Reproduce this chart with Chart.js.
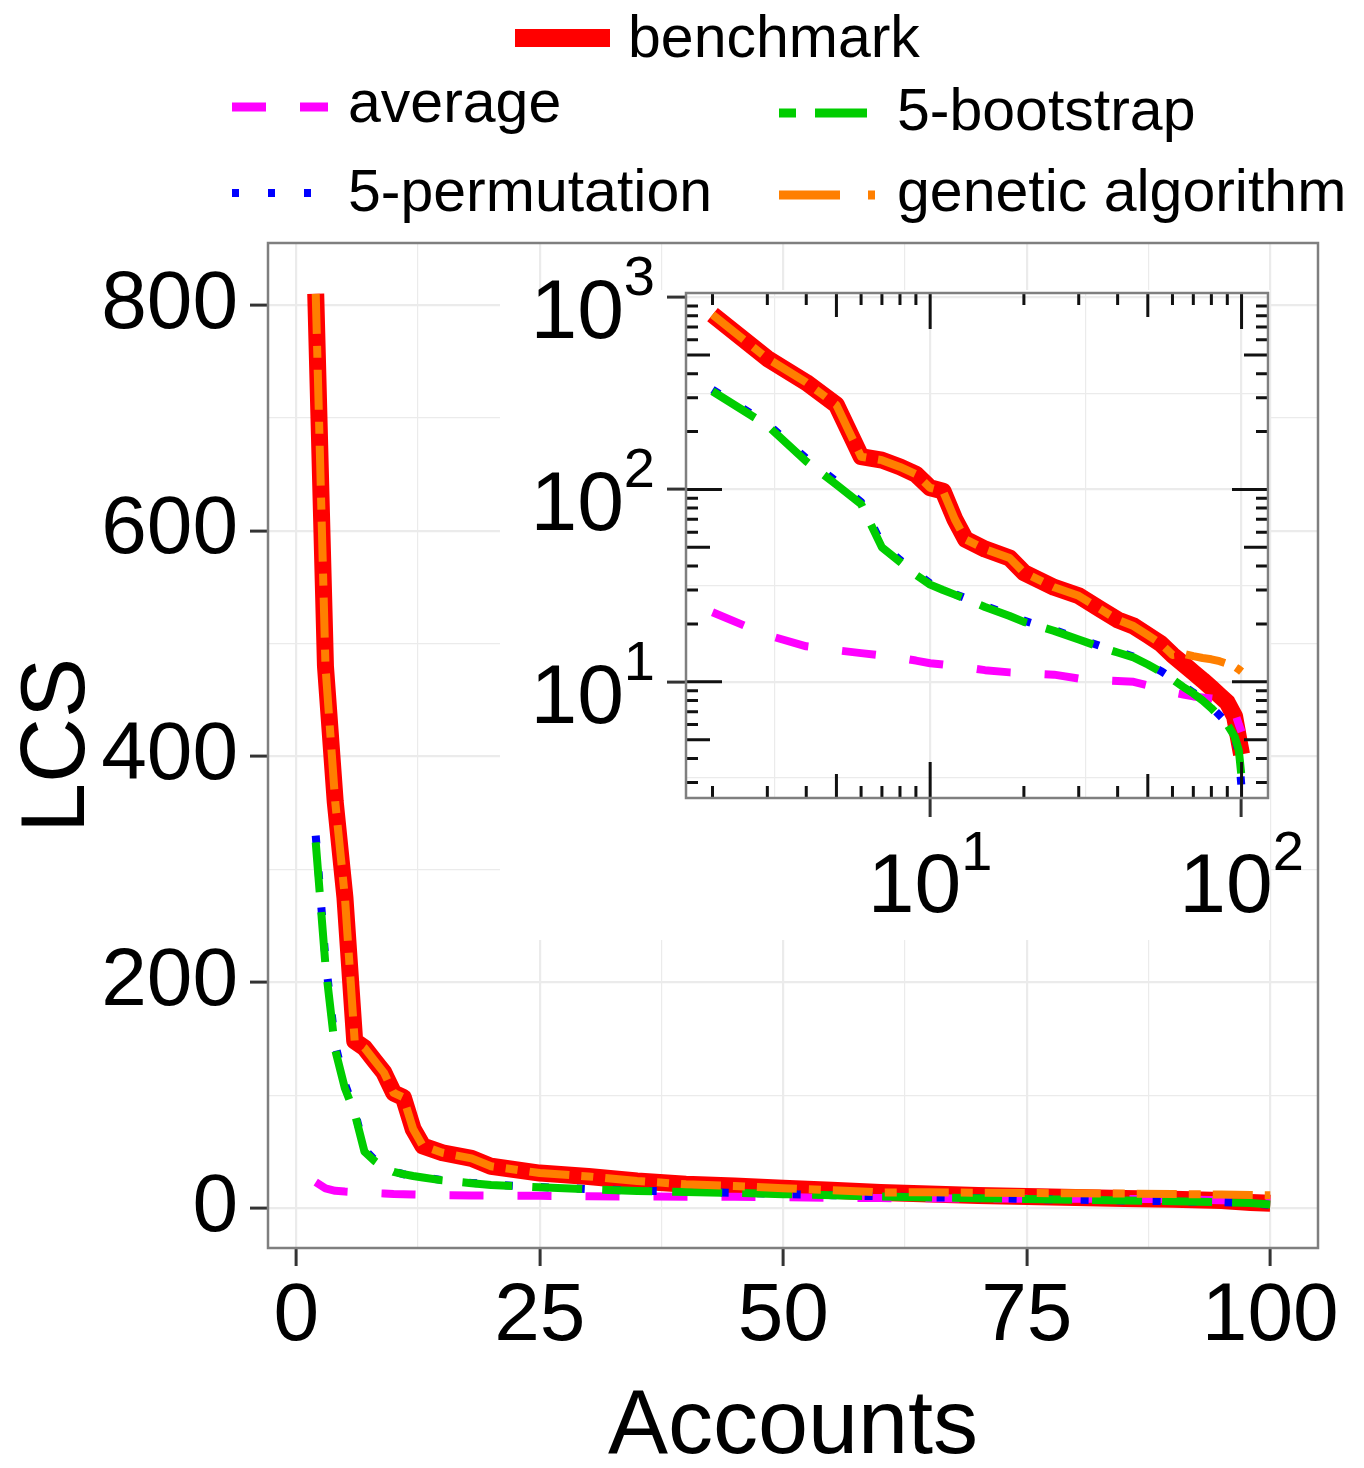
<!DOCTYPE html>
<html>
<head>
<meta charset="utf-8">
<script src="https://cdn.jsdelivr.net/npm/chart.js@4.4.0/dist/chart.umd.min.js"></script>
<style>
  html, body { margin: 0; padding: 0; background: #fff; overflow: hidden; }
  body { width: 1364px; height: 1468px; position: relative; font-family: 'Liberation Sans', Arial, sans-serif; }
  #mainChart { position: absolute; left: 0; top: 0; }
  #insetChart { position: absolute; left: 500px; top: 243px; }
  .lg { position: absolute; font-size: 59px; line-height: 60px; color: #000; white-space: nowrap; }
  .key { position: absolute; left: 0; top: 0; }
</style>
</head>
<body>
<svg class="key" width="1364" height="240">
  <line x1="515" y1="38" x2="610" y2="38" stroke="#ff0000" stroke-width="18"/>
  <line x1="232" y1="107" x2="328" y2="107" stroke="#ff00ff" stroke-width="9" stroke-dasharray="34 34"/>
  <line x1="779" y1="113" x2="867" y2="113" stroke="#00cd00" stroke-width="9" stroke-dasharray="17 19 52 40"/>
  <line x1="232" y1="193" x2="312" y2="193" stroke="#0000ff" stroke-width="8" stroke-dasharray="7 29"/>
  <line x1="779" y1="195" x2="876" y2="195" stroke="#ff7f00" stroke-width="9" stroke-dasharray="61 28 7 100"/>
</svg>
<div class="lg" style="left:628px;top:7px">benchmark</div>
<div class="lg" style="left:348px;top:72px">average</div>
<div class="lg" style="left:897px;top:80px">5-bootstrap</div>
<div class="lg" style="left:348px;top:161px">5-permutation</div>
<div class="lg" style="left:897px;top:161px">genetic algorithm</div>
<canvas id="mainChart" width="1364" height="1468"></canvas>
<canvas id="insetChart" width="818" height="697"></canvas>
<script>
// values (x = number of accounts)
const accounts = [2, 3, 4, 5, 6, 7, 8, 9, 10, 11, 12, 13, 15, 18, 20, 25, 30, 35, 40, 45, 50, 55, 60, 65, 70, 75, 80, 85, 90, 95, 98, 100];
const benchmark = [810, 480, 360, 275, 148, 142, 131, 120, 102, 98, 70, 55, 49, 44, 37, 31, 28, 24, 21, 19.5, 17.5, 15.8, 13.8, 12.4, 11.2, 10.2, 9.3, 8.5, 7.8, 6.6, 5.0, 4.2];
const average = [23, 17.5, 15.3, 14.6, 14.1, 13.7, 13.3, 12.9, 12.5, 12.3, 12.1, 11.9, 11.5, 11.2, 11.1, 10.9, 10.4, 10.2, 10.1, 10.0, 9.6, 9.1, 8.8, 8.6, 8.4, 8.3, 8.2, 8.1, 7.9, 7.0, 6.0, 5.5];
const bootstrap5 = [324, 215, 140, 106, 84, 50, 42, 36, 32, 30, 28.4, 27, 24.5, 22, 20.5, 18.4, 16.6, 15.2, 14.2, 13.4, 12.3, 11.3, 10.3, 9.4, 8.7, 8.0, 7.3, 6.6, 6.0, 5.2, 4.4, 3.2];
const permutation5 = [330, 220, 145, 110, 86, 52, 43, 37, 32.5, 30, 28.6, 27.2, 24.8, 22.3, 20.8, 18.6, 16.8, 15.4, 14.4, 13.5, 12.4, 11.4, 10.4, 9.5, 8.8, 8.1, 7.4, 6.7, 6.1, 5.3, 4.2, 2.8];
const genetic = [810, 480, 360, 275, 148, 142, 131, 120, 102, 98, 70, 55, 49, 44, 37, 31, 28, 24, 21, 19.5, 17.5, 15.8, 13.8, 14.0, 13.6, 13.3, 13.1, 12.8, 12.4, 12.0, 11.6, 11.3];

// axis ticks
const mainXTicks = [0, 25, 50, 75, 100];
const mainXMinor = [12.5, 37.5, 62.5, 87.5];
const mainYTicks = [0, 200, 400, 600, 800];
const mainYMinor = [100, 300, 500, 700];
const insetDecadesX = [10, 100];
const insetDecadesY = [10, 100, 1000];

const FONT = "'Liberation Sans', Arial, sans-serif";
Chart.defaults.font.family = FONT;

function pts(ys) {
  return accounts.map((x, i) => ({ x: x, y: ys[i] }));
}

function makeDatasets() {
  const common = { pointRadius: 0, fill: false, tension: 0, borderJoinStyle: 'round', borderCapStyle: 'butt' };
  return [
    Object.assign({ label: 'genetic algorithm', data: pts(genetic), borderColor: '#ff7f00', borderWidth: 8, borderDash: [40, 12, 12, 12], order: 0 }, common),
    Object.assign({ label: '5-bootstrap', data: pts(bootstrap5), borderColor: '#00cd00', borderWidth: 8, borderDash: [50, 20], order: 1 }, common),
    Object.assign({ label: '5-permutation', data: pts(permutation5), borderColor: '#0000ff', borderWidth: 8, borderDash: [8, 28], order: 2 }, common),
    Object.assign({ label: 'average', data: pts(average), borderColor: '#ff00ff', borderWidth: 8, borderDash: [34, 34], order: 3 }, common),
    Object.assign({ label: 'benchmark', data: pts(benchmark), borderColor: '#ff0000', borderWidth: 17, order: 4 }, common)
  ];
}

const panelBorder = {
  id: 'panelBorder',
  afterDraw(chart) {
    const a = chart.chartArea, ctx = chart.ctx;
    ctx.save();
    ctx.strokeStyle = '#7f7f7f';
    ctx.lineWidth = 2.5;
    ctx.strokeRect(a.left, a.top, a.right - a.left, a.bottom - a.top);
    ctx.restore();
  }
};

// main linear chart
new Chart(document.getElementById('mainChart'), {
  type: 'line',
  data: { datasets: makeDatasets() },
  plugins: [panelBorder],
  options: {
    responsive: false,
    animation: false,
    events: [],
    layout: { padding: { top: 243, right: 46, left: 0, bottom: 0 } },
    plugins: { legend: { display: false }, tooltip: { enabled: false } },
    scales: {
      x: {
        type: 'linear', min: -2.9, max: 104.9,
        afterBuildTicks: s => { s.ticks = mainXTicks.concat(mainXMinor).sort((a, b) => a - b).map(v => ({ value: v })); },
        afterFit: s => { s.height = 220; },
        border: { display: false },
        grid: {
          color: '#ebebeb',
          lineWidth: c => (c.tick && mainXTicks.includes(c.tick.value)) ? 2.2 : 1.2,
          tickLength: 18,
          tickWidth: 3,
          tickColor: c => (c.tick && mainXTicks.includes(c.tick.value)) ? '#333' : 'rgba(0,0,0,0)'
        },
        ticks: {
          autoSkip: false, maxRotation: 0, padding: 2, color: '#000',
          font: { size: 82 },
          callback: v => mainXTicks.includes(v) ? String(v) : ''
        },
        title: { display: true, text: 'Accounts', color: '#000', font: { size: 90, lineHeight: 0.8 }, padding: { top: 0, bottom: 4 } }
      },
      y: {
        type: 'linear', min: -35.4, max: 855,
        afterBuildTicks: s => { s.ticks = mainYTicks.concat(mainYMinor).sort((a, b) => a - b).map(v => ({ value: v })); },
        afterFit: s => { s.width = 268; },
        border: { display: false },
        grid: {
          color: '#ebebeb',
          lineWidth: c => (c.tick && mainYTicks.includes(c.tick.value)) ? 2.2 : 1.2,
          tickLength: 18,
          tickWidth: 3,
          tickColor: c => (c.tick && mainYTicks.includes(c.tick.value)) ? '#333' : 'rgba(0,0,0,0)'
        },
        ticks: {
          autoSkip: false, padding: 12, color: '#000',
          font: { size: 82 },
          callback: v => mainYTicks.includes(v) ? String(v) : ''
        },
        title: { display: true, text: 'LCS', color: '#000', font: { size: 90, lineHeight: 0.8 }, padding: { top: 23, bottom: 0 } }
      }
    }
  }
});

// inset: white viewport, log ticks on all sides, 10^n labels
const insetBack = {
  id: 'insetBack',
  beforeDraw(chart) {
    const ctx = chart.ctx, a = chart.chartArea;
    ctx.save();
    ctx.fillStyle = '#fff';
    ctx.fillRect(0, 47, 770, 650);
    ctx.fillRect(a.left, a.top, a.right - a.left, a.bottom - a.top);
    ctx.restore();
  }
};

const logTicks = {
  id: 'logTicks',
  afterDatasetsDraw(chart) {
    const ctx = chart.ctx, a = chart.chartArea;
    const xs = chart.scales.x, ys = chart.scales.y;
    const len = v => {
      const m = v / Math.pow(10, Math.floor(Math.log10(v) + 1e-9));
      return Math.abs(m - 1) < 1e-6 ? 36 : (Math.abs(m - 5) < 1e-6 ? 24 : 12);
    };
    ctx.save();
    ctx.strokeStyle = '#111';
    ctx.lineWidth = 3;
    ctx.beginPath();
    for (let d = 1; d <= 100; d *= 10) {
      for (let k = 1; k <= 9; k++) {
        const v = k * d;
        if (v >= xs.min && v <= xs.max) {
          const px = xs.getPixelForValue(v), l = len(v);
          ctx.moveTo(px, a.bottom); ctx.lineTo(px, a.bottom - l);
          ctx.moveTo(px, a.top); ctx.lineTo(px, a.top + l);
        }
        if (v >= ys.min && v <= ys.max) {
          const py = ys.getPixelForValue(v), l = len(v);
          ctx.moveTo(a.left, py); ctx.lineTo(a.left + l, py);
          ctx.moveTo(a.right, py); ctx.lineTo(a.right - l, py);
        }
      }
    }
    ctx.stroke();
    ctx.restore();
  },
  afterDraw(chart) {
    const ctx = chart.ctx, a = chart.chartArea;
    const xs = chart.scales.x, ys = chart.scales.y;
    const big = '84px ' + FONT, small = '56px ' + FONT;
    const measure = (txt, f) => { ctx.font = f; return ctx.measureText(txt).width; };
    ctx.save();
    ctx.fillStyle = '#000';
    ctx.textAlign = 'left';
    ctx.textBaseline = 'alphabetic';
    insetDecadesY.forEach(v => {
      const e = String(Math.round(Math.log10(v)));
      const w1 = measure('10', big), w2 = measure(e, small);
      const py = ys.getPixelForValue(v);
      const x0 = a.left - 31 - (w1 + w2);
      ctx.font = big; ctx.fillText('10', x0, py + 41);
      ctx.font = small; ctx.fillText(e, x0 + w1, py - 2);
    });
    insetDecadesX.forEach(v => {
      const e = String(Math.round(Math.log10(v)));
      const w1 = measure('10', big), w2 = measure(e, small);
      const px = xs.getPixelForValue(v);
      const x0 = px - (w1 + w2) / 2;
      ctx.font = big; ctx.fillText('10', x0, a.bottom + 114);
      ctx.font = small; ctx.fillText(e, x0 + w1, a.bottom + 72);
    });
    ctx.restore();
  }
};

const insetGridX = [Math.pow(10, 0.5), 10, Math.pow(10, 1.5), 100];
const insetGridY = [Math.pow(10, 0.5), 10, Math.pow(10, 1.5), 100, Math.pow(10, 2.5), 1000];
const isDecade = v => Math.abs(Math.log10(v) - Math.round(Math.log10(v))) < 1e-6;

new Chart(document.getElementById('insetChart'), {
  type: 'line',
  data: { datasets: makeDatasets() },
  plugins: [insetBack, logTicks, panelBorder],
  options: {
    responsive: false,
    animation: false,
    events: [],
    layout: { padding: { top: 50, right: 50, left: 0, bottom: 0 } },
    plugins: { legend: { display: false }, tooltip: { enabled: false } },
    scales: {
      x: {
        type: 'logarithmic', min: 1.644, max: 121.6,
        afterBuildTicks: s => { s.ticks = insetGridX.map(v => ({ value: v })); },
        afterFit: s => { s.height = 142; },
        border: { display: false },
        grid: {
          color: '#ebebeb',
          lineWidth: c => (c.tick && isDecade(c.tick.value)) ? 2.2 : 1.2,
          tickLength: 19,
          tickWidth: 3,
          tickColor: c => (c.tick && isDecade(c.tick.value)) ? '#333' : 'rgba(0,0,0,0)'
        },
        ticks: { display: false }
      },
      y: {
        type: 'logarithmic', min: 2.49, max: 1050,
        afterBuildTicks: s => { s.ticks = insetGridY.map(v => ({ value: v })); },
        afterFit: s => { s.width = 186; },
        border: { display: false },
        grid: {
          color: '#ebebeb',
          lineWidth: c => (c.tick && isDecade(c.tick.value)) ? 2.2 : 1.2,
          tickLength: 19,
          tickWidth: 3,
          tickColor: c => (c.tick && isDecade(c.tick.value)) ? '#333' : 'rgba(0,0,0,0)'
        },
        ticks: { display: false }
      }
    }
  }
});
</script>
</body>
</html>
